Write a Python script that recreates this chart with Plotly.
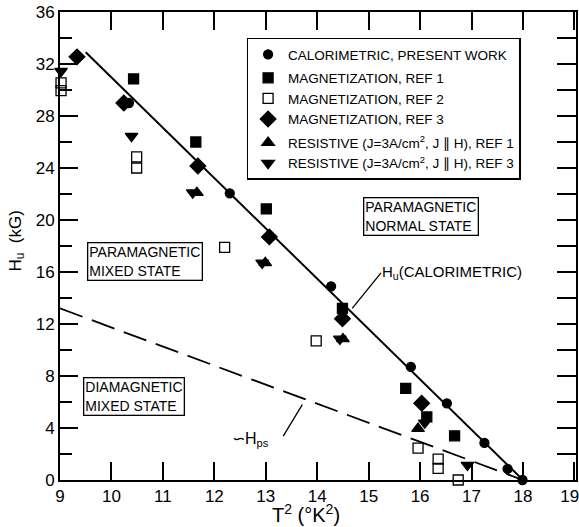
import plotly.graph_objects as go

# ---- data ----
x_ticks = list(range(9, 20))
x_tick_text = [str(v) for v in range(9, 19)] + ["19\u00a0\u00a0"]
y_ticks = list(range(0, 37, 4))

cal_x = [10.34, 12.30, 14.27, 15.82, 16.52, 17.25, 17.70, 17.99]
cal_y = [29.0, 22.05, 14.9, 8.7, 5.9, 2.85, 0.85, 0.0]

mag1_x = [10.43, 11.64, 13.01, 14.49, 15.72, 16.13, 16.67]
mag1_y = [30.85, 26.0, 20.85, 13.2, 7.05, 4.85, 3.4]

mag2_x = [9.02, 9.02, 10.49, 10.49, 12.20, 13.98, 15.96, 16.35, 16.35, 16.74]
mag2_y = [30.55, 29.95, 24.85, 24.0, 17.9, 10.7, 2.45, 1.6, 0.9, 0.0]

mag3_x = [9.33, 10.24, 11.68, 13.07, 14.49, 16.03]
mag3_y = [32.55, 29.0, 24.15, 18.7, 12.4, 5.9]

res1_x = [11.66, 12.99, 14.50, 15.96]
res1_y = [22.1, 16.7, 10.85, 3.95]

res3_x = [9.02, 10.39, 11.58, 12.93, 14.44, 16.09, 16.92]
res3_y = [31.45, 26.45, 22.1, 16.7, 10.85, 4.4, 1.15]

hu_line_x = [9.5, 18.0]
hu_line_y = [32.9, 0.0]

hps_line_x = [9.0, 18.0]
hps_line_y = [13.2, 0.0]

FONT = "Liberation Sans"

fig = go.Figure()

fig.add_trace(go.Scatter(x=hu_line_x, y=hu_line_y, mode="lines",
                         line=dict(color="black", width=2), showlegend=False,
                         hoverinfo="skip"))
fig.add_trace(go.Scatter(x=hps_line_x, y=hps_line_y, mode="lines", yaxis="y2",
                         line=dict(color="black", width=1.8, dash="24px,10px"),
                         showlegend=False, hoverinfo="skip"))

series = [
    ("CALORIMETRIC, PRESENT WORK", cal_x, cal_y, "circle", 9, "g1"),
    ("MAGNETIZATION, REF 1", mag1_x, mag1_y, "square", 10, "g2"),
    ("MAGNETIZATION, REF 2", mag2_x, mag2_y, "square-open", 10, "g2"),
    ("MAGNETIZATION, REF 3", mag3_x, mag3_y, "diamond", 12, "g2"),
    ("RESISTIVE (J=3A/cm<sup>2</sup>, J ∥ H), REF 1", res1_x, res1_y, "triangle-up", 11, "g3"),
    ("RESISTIVE (J=3A/cm<sup>2</sup>, J ∥ H), REF 3", res3_x, res3_y, "triangle-down", 11, "g3"),
]
for name, xs, ys, sym, sz, grp in series:
    fig.add_trace(go.Scatter(
        x=xs, y=ys, mode="markers", name=name, legendgroup=grp,
        cliponaxis=False,
        marker=dict(symbol=sym, size=sz, color="black",
                    line=dict(color="black", width=1.3)),
    ))

annotations = [
    dict(x=10.65, y=16.77, text="PARAMAGNETIC<br>MIXED STATE"),
    dict(x=10.43, y=6.46, text="DIAMAGNETIC<br>MIXED STATE"),
    dict(x=16.02, y=20.3, text="PARAMAGNETIC<br>NORMAL STATE"),
]
anns = []
for a in annotations:
    anns.append(dict(x=a["x"], y=a["y"], xref="x", yref="y", text=a["text"],
                     showarrow=False, align="left", xanchor="center", yanchor="middle",
                     font=dict(family=FONT, size=14, color="black"),
                     bordercolor="black", borderwidth=1.3, borderpad=1,
                     bgcolor="white"))

# H_u label and its leader line
anns.append(dict(x=16.62, y=16.0, xref="x", yref="y", xanchor="center", yanchor="middle",
                 text="H<sub>u</sub>(CALORIMETRIC)", showarrow=False,
                 font=dict(family=FONT, size=15, color="black")))
anns.append(dict(x=14.68, y=13.2, xref="x", yref="y", text="", showarrow=True,
                 arrowhead=0, arrowwidth=1.3, arrowcolor="black",
                 ax=30, ay=-37, standoff=0, startstandoff=0))
# H_ps label and its leader line
anns.append(dict(x=12.70, y=3.1, xref="x", yref="y", xanchor="center", yanchor="middle",
                 text="∽H<sub>ps</sub>", showarrow=False,
                 font=dict(family=FONT, size=16, color="black")))
anns.append(dict(x=13.71, y=5.8, xref="x", yref="y", text="", showarrow=True,
                 arrowhead=0, arrowwidth=1.3, arrowcolor="black",
                 ax=-20, ay=33, standoff=0, startstandoff=0))

anns.append(dict(x=0.477, y=-0.071, xref="paper", yref="paper",
                 xanchor="center", yanchor="middle",
                 text="T<sup>2</sup> (°K<sup>2</sup>)", showarrow=False,
                 font=dict(family=FONT, size=20, color="black")))
anns.append(dict(x=-0.083, y=0.51, xref="paper", yref="paper",
                 xanchor="center", yanchor="middle",
                 text="H<sub>u</sub>  (kG)", showarrow=False, textangle=-90,
                 font=dict(family=FONT, size=17, color="black")))

fig.update_layout(
    width=579, height=527,
    margin=dict(l=60, r=3, t=12, b=47, autoexpand=False),
    paper_bgcolor="white", plot_bgcolor="white",
    font=dict(family=FONT, color="black"),
    showlegend=True,
    legend=dict(x=0.362, y=0.945, xanchor="left", yanchor="top",
                bgcolor="white", bordercolor="black", borderwidth=1.3,
                font=dict(family=FONT, size=13.5, color="black"),
                tracegroupgap=3, itemwidth=30),
    xaxis=dict(range=[9, 19.03], tickvals=x_ticks, ticktext=x_tick_text,
               ticks="inside", ticklen=18, tickwidth=1.5, tickcolor="black",
               showline=True, linecolor="black", linewidth=1.8, mirror="ticks",
               showgrid=False, zeroline=False, automargin=False,
               ticklabeloverflow="allow",
               tickfont=dict(family=FONT, size=17, color="black")),
    yaxis=dict(range=[0, 36], tickvals=y_ticks, ticktext=[str(v) for v in y_ticks],
               ticks="inside", ticklen=18, tickwidth=1.5, tickcolor="black",
               minor=dict(dtick=2, tick0=0, ticks="inside", ticklen=12,
                          tickwidth=1.5, tickcolor="black", showgrid=False),
               showline=True, linecolor="black", linewidth=1.8,
               showgrid=False, zeroline=False, automargin=False,
               ticklabeloverflow="allow",
               tickfont=dict(family=FONT, size=17, color="black")),
    yaxis2=dict(range=[0, 36], overlaying="y", side="right", dtick=2, tick0=0,
                ticks="inside", ticklen=19, tickwidth=1.5, tickcolor="black",
                showticklabels=False, showline=True, linecolor="black",
                linewidth=1.8, showgrid=False, zeroline=False, automargin=False),
    annotations=anns,
)

fig.write_html("out.html", config={"displayModeBar": False},
               post_script="document.body.style.margin='0';document.body.style.padding='0';")
